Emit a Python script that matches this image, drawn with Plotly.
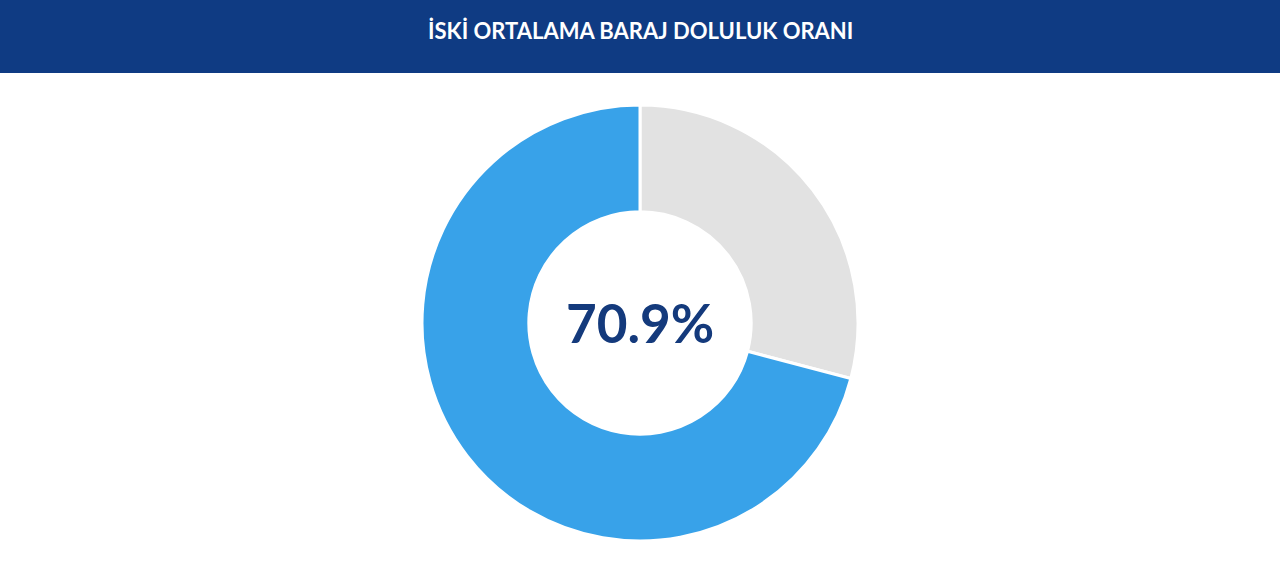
import plotly.graph_objects as gobj

labels = ["Boş", "Dolu"]
values = [29.1, 70.9]
colors = ["#e2e2e2", "#38a2e9"]
title_text = "İSKİ ORTALAMA BARAJ DOLULUK ORANI"
center_text = "70.9%"

W, H = 1280, 572
header_h = 73

fig = gobj.Figure()
fig.add_trace(gobj.Pie(labels=labels, values=values, hole=0.51, sort=False,
                       direction="clockwise", rotation=0,
                       marker=dict(colors=colors, line=dict(color="white", width=3)),
                       textinfo="none", hoverinfo="label+percent", showlegend=False,
                       domain=dict(x=[0.2, 0.8], y=[1 - 541 / H, 1 - 105 / H])))

# dark blue header band
fig.add_shape(type="rect", xref="paper", yref="paper", x0=0, x1=1,
              y0=1 - header_h / H, y1=1, fillcolor="#0f3b83", line_width=0, layer="below")
fig.add_annotation(x=0.5, y=1 - 31 / H, xref="paper", yref="paper", showarrow=False,
                   xanchor="center", yanchor="middle",
                   text="<b>" + title_text + "</b>",
                   font=dict(family="Lato", size=22, color="white"))
fig.add_annotation(x=0.5, y=1 - 322 / H, xref="paper", yref="paper", showarrow=False,
                   xanchor="center", yanchor="middle",
                   text="<b>" + center_text + "</b>",
                   font=dict(family="Lato", size=53, color="#143a7c"))

fig.update_layout(autosize=False, width=W, height=H,
                  margin=dict(l=0, r=0, t=0, b=0),
                  paper_bgcolor="white", plot_bgcolor="white")

# page default margin would shift the figure by 8px
fig.write_html("out.html", config={"displayModeBar": False},
               post_script="document.body.style.margin='0';")
